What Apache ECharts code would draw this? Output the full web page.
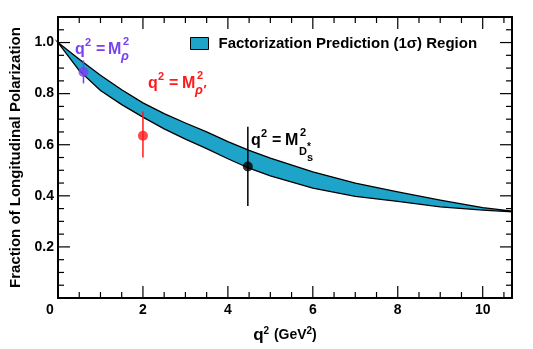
<!DOCTYPE html>
<html>
<head>
<meta charset="UTF-8">
<title>Fraction of Longitudinal Polarization</title>
<script src="https://cdn.jsdelivr.net/npm/echarts@6/dist/echarts.min.js"></script>
<style>
html, body { margin: 0; padding: 0; background: #fff; }
#chart { width: 533px; height: 349px; }
</style>
</head>
<body>
<div id="chart"></div>
<script>
// factorization band (1 sigma)
var bandQ     = [0, 0.5, 1, 1.5, 2, 2.5, 3, 3.5, 4, 4.5, 5, 6, 7, 8, 9, 10, 10.69];
var bandUpper = [1.0, 0.935, 0.872, 0.815, 0.764, 0.722, 0.685, 0.650, 0.612, 0.578, 0.548, 0.494, 0.450, 0.415, 0.383, 0.354, 0.340];
var bandLower = [1.0, 0.890, 0.812, 0.757, 0.708, 0.662, 0.622, 0.585, 0.545, 0.508, 0.478, 0.430, 0.398, 0.378, 0.357, 0.344, 0.337];

// measured points with errors
var pointQ    = [0.6, 2.0, 4.47];
var pointF    = [0.885, 0.635, 0.515];
var pointLow  = [0.84, 0.55, 0.36];
var pointHigh = [0.93, 0.73, 0.67];

var X_MAX = 10.69, Y_MAX = 1.1;
var xMajor = [0, 2, 4, 6, 8, 10];
var yMajor = [0, 0.2, 0.4, 0.6, 0.8, 1.0];
var legendName = 'Factorization Prediction (1\u03c3) Region';

var pointColors = ['#7b3ff2', '#ff1a1a', '#000000'];
var bandColor = '#1ea3c9';
var FONT = '"Liberation Sans", Arial, Helvetica, sans-serif';

// minor tick positions (every 1/4 of a major step)
var xMinor = [], yMinor = [];
for (var k = 1; k * 0.5 < X_MAX; k++) if (k % 4) xMinor.push(k * 0.5);
for (k = 1; k * 0.05 < Y_MAX - 1e-9; k++) if (k % 4) yMinor.push(Math.round(k * 5) / 100);

var chart = echarts.init(document.getElementById('chart'));

function xLabel(v) { return v === 0 ? '{z|0}' : String(v); }
function yLabel(v) { return v.toFixed(1); }

// axis ticks are drawn together with the band (echarts 6 dropped them here)
function axisX(pos) {
  return {
    type: 'value', position: pos, min: 0, max: X_MAX, interval: 2,
    axisLine: { show: true, onZero: false, lineStyle: { color: '#000', width: 2 } },
    axisTick: { show: false },
    splitLine: { show: false },
    axisLabel: pos === 'bottom' ? {
      margin: 5, color: '#000', fontFamily: FONT, fontWeight: 'bold', fontSize: 14,
      showMaxLabel: false, formatter: xLabel,
      rich: { z: { padding: [0, 16, 0, 0], fontFamily: FONT, fontWeight: 'bold', fontSize: 14, color: '#000' } }
    } : { show: false }
  };
}
function axisY(pos) {
  return {
    type: 'value', position: pos, min: 0, max: Y_MAX, interval: 0.2,
    axisLine: { show: true, onZero: false, lineStyle: { color: '#000', width: 2 } },
    axisTick: { show: false },
    splitLine: { show: false },
    axisLabel: pos === 'left' ? {
      margin: 4, color: '#000', fontFamily: FONT, fontWeight: 'bold', fontSize: 14,
      showMinLabel: false, showMaxLabel: false, formatter: yLabel
    } : { show: false }
  };
}

var xa = axisX('bottom');
xa.name = 'q{sup|2} {u|(GeV}{sup|2}{u|)}';
xa.nameLocation = 'middle';
xa.nameGap = 28;
xa.nameTextStyle = {
  color: '#000', fontFamily: FONT, fontWeight: 'bold', fontSize: 17,
  rich: {
    sup: { fontFamily: FONT, fontWeight: 'bold', fontSize: 10, padding: [0, 0, 9, 0], color: '#000' },
    u: { fontFamily: FONT, fontWeight: 'bold', fontSize: 14, color: '#000' }
  }
};
var ya = axisY('left');
ya.name = 'Fraction of Longitudinal Polarization';
ya.nameLocation = 'middle';
ya.nameGap = 30;
ya.nameTextStyle = { color: '#000', fontFamily: FONT, fontWeight: 'bold', fontSize: 15 };

// annotation pieces: [text, x, y(middle), size, italic]
function label(parts, color) {
  return parts.map(function (p) {
    return {
      type: 'text', x: p[1], y: p[2], silent: true,
      style: {
        text: p[0], fill: color, verticalAlign: 'middle',
        font: (p[4] ? 'italic ' : '') + 'bold ' + p[3] + 'px ' + FONT
      }
    };
  });
}
var notes = []
  .concat(label([['q', 75, 50, 16], ['2', 85, 43, 11], ['=', 96, 50, 16], ['M', 108, 50, 16],
                 ['2', 123, 42, 11], ['\u03c1', 121, 56, 13, true]], pointColors[0]))
  .concat(label([['q', 148, 84, 16], ['2', 158, 77, 11], ['=', 169, 84, 16], ['M', 182, 84, 16],
                 ['2', 197, 76, 11], ['\u03c1\u2032', 195, 90, 13, true]], pointColors[1]))
  .concat(label([['q', 251, 141, 16], ['2', 261, 134, 11], ['=', 272, 141, 16], ['M', 285, 141, 16],
                 ['2', 300, 133, 11], ['D', 299, 152, 11], ['*', 307, 147, 10], ['s', 307, 158, 11]], pointColors[2]));

var bandRows = bandQ.map(function (q, i) { return [q, bandLower[i], bandUpper[i]]; });

function tickLines(api) {
  var out = [];
  function seg(p, dx, dy) {
    out.push({ type: 'line', shape: { x1: p[0], y1: p[1], x2: p[0] + dx, y2: p[1] + dy },
               style: { stroke: '#000', lineWidth: 1.2 } });
  }
  xMajor.concat(xMinor).forEach(function (v) {
    var len = xMajor.indexOf(v) >= 0 ? 12 : 6;
    seg(api.coord([v, 0]), 0, -len);
    seg(api.coord([v, Y_MAX]), 0, len);
  });
  yMajor.concat(yMinor).forEach(function (v) {
    var len = yMajor.indexOf(v) >= 0 ? 12 : 6;
    seg(api.coord([0, v]), len, 0);
    seg(api.coord([X_MAX, v]), -len, 0);
  });
  return out;
}

var option = {
  animation: false,
  backgroundColor: '#fff',
  grid: { left: 58, right: 21, top: 17, bottom: 48 },
  xAxis: [xa, axisX('top')],
  yAxis: [ya, axisY('right')],
  legend: {
    left: 190, top: 36, padding: 0, itemWidth: 18, itemHeight: 12, itemGap: 10,
    textStyle: { color: '#000', fontFamily: FONT, fontWeight: 'bold', fontSize: 15, padding: [0, 0, 0, 5] },
    data: [{ name: legendName, icon: 'rect', itemStyle: { color: bandColor, borderColor: '#000', borderWidth: 1 } }]
  },
  graphic: notes,
  series: [
    {
      name: legendName,
      type: 'custom',
      color: bandColor,
      clip: false,
      data: bandRows,
      renderItem: function (params, api) {
        if (params.dataIndex !== 0) return null;
        var pts = [];
        for (var i = 0; i < bandRows.length; i++) pts.push(api.coord([bandRows[i][0], bandRows[i][2]]));
        for (var j = bandRows.length - 1; j >= 0; j--) pts.push(api.coord([bandRows[j][0], bandRows[j][1]]));
        var kids = [{
          type: 'polygon',
          shape: { points: pts },
          style: { fill: bandColor, stroke: '#000', lineWidth: 1.3 }
        }];
        return { type: 'group', children: kids.concat(tickLines(api)) };
      },
      z: 2
    },
    {
      type: 'custom',
      data: pointQ.map(function (q, i) { return [q, pointLow[i], pointHigh[i]]; }),
      renderItem: function (params, api) {
        var a = api.coord([api.value(0), api.value(1)]);
        var b = api.coord([api.value(0), api.value(2)]);
        return {
          type: 'line',
          shape: { x1: a[0], y1: a[1], x2: b[0], y2: b[1] },
          style: { stroke: pointColors[params.dataIndex], lineWidth: 1.5 }
        };
      },
      z: 3
    },
    {
      type: 'scatter',
      symbol: 'circle',
      symbolSize: 10,
      data: pointQ.map(function (q, i) {
        return { value: [q, pointF[i]], itemStyle: { color: pointColors[i] } };
      }),
      z: 4
    }
  ]
};
chart.setOption(option);
</script>
</body>
</html>
